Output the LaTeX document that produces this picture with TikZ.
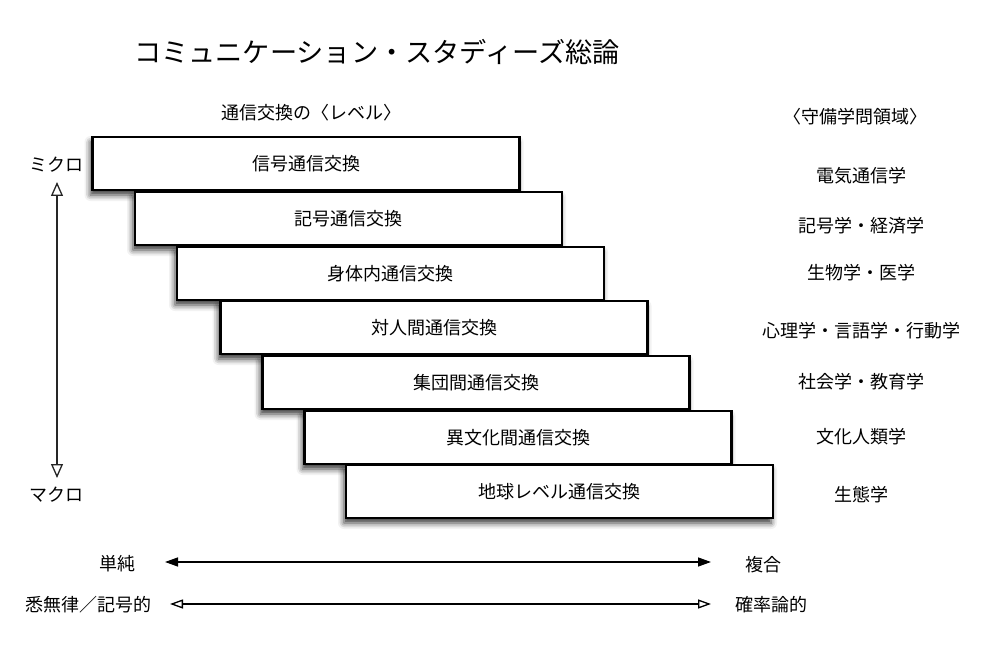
\documentclass[tikz,border=0pt]{standalone}
\usepackage{fontspec}
\setmainfont{Noto Sans CJK JP}
\usetikzlibrary{arrows.meta,shadows.blur}
\tikzset{
  x=1pt,y=-1pt,
  lvl/.style={draw=black,line width=2.2pt,fill=white,minimum width=427pt,minimum height=53pt,
    inner sep=0pt,font=\fontsize{18}{21}\selectfont,
    blur shadow={shadow xshift=-2pt,shadow yshift=-5pt,shadow blur radius=6pt,shadow opacity=80}},
  lbl/.style={inner sep=0pt,font=\fontsize{18}{21}\selectfont},
}
\begin{document}
\begin{tikzpicture}
\useasboundingbox (0,0) rectangle (997,655);
\node[inner sep=0pt,font=\fontsize{27.2}{31}\selectfont] (title) at (377,52) {コミュニケーション・スタディーズ総論};
\node[lbl] (lvhead) at (311,113) {通信交換の〈レベル〉};
\node[lbl] (fhead) at (855,117) {〈守備学問領域〉};

\node[lvl] (b1) at (306,163.5) {信号通信交換};
\node[lvl] (b2) at (348.5,218.5) {記号通信交換};
\node[lvl] (b3) at (390.5,273.5) {身体内通信交換};
\node[lvl] (b4) at (434,327.5) {対人間通信交換};
\node[lvl] (b5) at (476,382.5) {集団間通信交換};
\node[lvl] (b6) at (518,437.5) {異文化間通信交換};
\node[lvl] (b7) at (559.5,491.5) {地球レベル通信交換};

\node[lbl] (f1) at (861,176) {電気通信学};
\node[lbl] (f2) at (861,226) {記号学・経済学};
\node[lbl] (f3) at (861,273) {生物学・医学};
\node[lbl] (f4) at (861,331) {心理学・言語学・行動学};
\node[lbl] (f5) at (861,382) {社会学・教育学};
\node[lbl] (f6) at (861,437) {文化人類学};
\node[lbl] (f7) at (861,495) {生態学};

\node[lbl] (micro) at (57,165) {ミクロ};
\node[lbl] (macro) at (57,495) {マクロ};
\coordinate (vtop) at (57,182);
\coordinate (vbot) at (57,478);
\draw[black!85,line width=1.3pt,{Triangle[open,length=14pt,width=12pt]}-{Triangle[open,length=14pt,width=12pt]}] (vtop) -- (vbot);

\node[lbl] (tan) at (117,564) {単純};
\node[lbl] (fuku) at (763,565) {複合};
\coordinate (a1l) at (165,562);
\coordinate (a1r) at (711,562);
\draw[line width=1.3pt,{Triangle[length=13pt,width=9pt]}-{Triangle[length=13pt,width=9pt]}] (a1l) -- (a1r);

\node[lbl] (shitsu) at (88,605) {悉無律／記号的};
\node[lbl] (kaku) at (771,605) {確率論的};
\coordinate (a2l) at (170,604);
\coordinate (a2r) at (711,604);
\draw[line width=1.3pt,{Triangle[open,length=13pt,width=9pt]}-{Triangle[open,length=13pt,width=9pt]}] (a2l) -- (a2r);
\end{tikzpicture}
\end{document}
